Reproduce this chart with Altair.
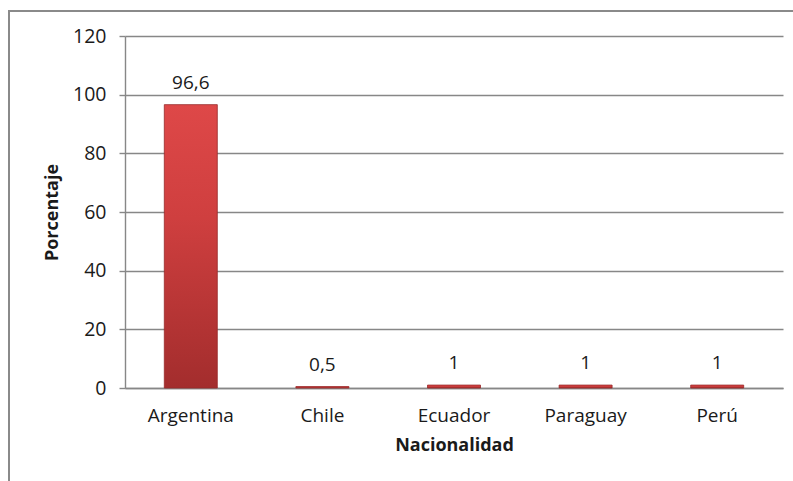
import altair as alt
import pandas as pd

# Nationality breakdown (percent)
nacionalidades = ["Argentina", "Chile", "Ecuador", "Paraguay", "Perú"]
porcentajes = [96.6, 0.5, 1, 1, 1]
y_ticks = [0, 20, 40, 60, 80, 100, 120]

df = pd.DataFrame({"Nacionalidad": nacionalidades, "Porcentaje": porcentajes})

FONT = "Open Sans"
TEXT = "#1a1a1a"
GRID = "#878787"

W, H = 658, 352

bar_fill = alt.Gradient(
    gradient="linear",
    stops=[
        alt.GradientStop(color="#de4848", offset=0),
        alt.GradientStop(color="#cf3f3f", offset=0.4),
        alt.GradientStop(color="#a32d2d", offset=1),
    ],
    x1=0, x2=0, y1=0, y2=1,
)

x_enc = alt.X(
    "Nacionalidad:N",
    sort=nacionalidades,
    scale=alt.Scale(paddingInner=0.6, paddingOuter=0.3),
    axis=alt.Axis(
        title="Nacionalidad",
        labelAngle=0,
        labelFont=FONT,
        labelFontSize=19,
        labelColor=TEXT,
        labelPadding=18,
        ticks=False,
        domainColor=GRID,
        domainWidth=1.4,
        titleFont=FONT,
        titleFontSize=18,
        titleFontWeight="bold",
        titleColor=TEXT,
        titleX=W / 2,
        titleY=57,
        titleBaseline="middle",
        titleAlign="center",
    ),
)

y_enc = alt.Y(
    "Porcentaje:Q",
    scale=alt.Scale(domain=[0, 120], nice=False),
    axis=alt.Axis(
        title="Porcentaje",
        values=y_ticks,
        labelFont=FONT,
        labelFontSize=19.5,
        labelColor=TEXT,
        labelPadding=13,
        tickSize=6,
        tickColor=GRID,
        tickWidth=1.4,
        domainColor=GRID,
        domainWidth=1.4,
        grid=True,
        gridColor=GRID,
        gridWidth=1.4,
        titleFont=FONT,
        titleFontSize=18,
        titleFontWeight="bold",
        titleColor=TEXT,
        titleAngle=270,
        titleX=-73,
        titleY=H / 2,
        titleBaseline="middle",
        titleAlign="center",
    ),
)

bars = alt.Chart(df).mark_bar(
    fill=bar_fill, stroke="#982a2a", strokeWidth=0.8, size=53
).encode(x=x_enc, y=y_enc)

labels = alt.Chart(df).transform_calculate(
    etiqueta="replace(format(datum.Porcentaje, '.1~f'), '.', ',')"
).mark_text(
    font=FONT, fontSize=19, color=TEXT, baseline="bottom", dy=-12
).encode(
    x=alt.X("Nacionalidad:N", sort=nacionalidades),
    y=alt.Y("Porcentaje:Q"),
    text="etiqueta:N",
)

# Outer chart-area frame
frame = alt.Chart(pd.DataFrame({"k": [0]})).mark_rect(
    fill=None, stroke="#8a8a8a", strokeWidth=2
).encode(
    x=alt.value(-116), x2=alt.value(W + 60),
    y=alt.value(-25), y2=alt.value(H + 150),
)

chart = alt.layer(frame, bars, labels).properties(
    width=W,
    height=H,
    padding={"left": 125, "top": 36, "right": 10, "bottom": 93},
    autosize=alt.AutoSizeParams(type="none"),
    background="white",
).configure_view(stroke=None)

chart.save("out.html", embed_options={"renderer": "svg", "actions": False})
